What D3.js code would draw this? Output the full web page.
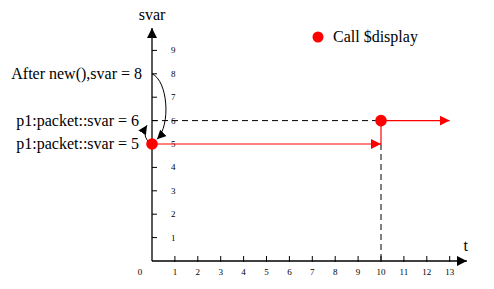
<!DOCTYPE html>
<html>
<head>
<meta charset="utf-8">
<script src="https://cdn.jsdelivr.net/npm/d3@7"></script>
<style>
  body { margin: 0; background: #fff; }
</style>
</head>
<body>
<svg id="chart" width="494" height="289"></svg>
<script>
// chart data
const xTicks = [1, 2, 3, 4, 5, 6, 7, 8, 9, 10, 11, 12, 13];
const yTicks = [1, 2, 3, 4, 5, 6, 7, 8, 9];
const displayPoints = [[0, 5], [10, 6]];
const svarPath = [[0, 5], [10, 5]];      // red arrow at svar = 5
const svarPath2 = [[10, 6], [13, 6]];    // red arrow at svar = 6
const annotations = [
  { text: "After new(),svar = 8", v: 8 },
  { text: "p1:packet::svar = 6", v: 6 },
  { text: "p1:packet::svar = 5", v: 5 }
];
const legendLabel = "Call $display";
const FONT = "Liberation Serif";

const svg = d3.select("#chart");
const x = d3.scaleLinear().domain([0, 10]).range([152, 381]);
const y = d3.scaleLinear().domain([0, 10]).range([261, 27]);

// markers
const defs = svg.append("defs");
function marker(id, color, w, h) {
  defs.append("marker")
    .attr("id", id)
    .attr("viewBox", "0 0 10 10")
    .attr("refX", 10).attr("refY", 5)
    .attr("markerUnits", "userSpaceOnUse")
    .attr("markerWidth", w).attr("markerHeight", h)
    .attr("orient", "auto")
    .append("path").attr("d", "M0,0L10,5L0,10Z").attr("fill", color);
}
marker("redArrow", "#ff0000", 10, 10);
marker("blackArrow", "#000", 10, 12);
marker("smallArrow", "#000", 9, 9);

// y axis
svg.append("line")
  .attr("x1", x(0)).attr("y1", y(0))
  .attr("x2", x(0)).attr("y2", y(10) + 1)
  .attr("stroke", "#000").attr("stroke-width", 1.3)
  .attr("marker-end", "url(#blackArrow)");
svg.append("text").attr("x", x(0)).attr("y", 20)
  .attr("font-family", FONT)
  .attr("text-anchor", "middle").attr("font-size", 16).text("svar");

svg.selectAll(".ytick").data(yTicks).join("line")
  .attr("x1", x(0)).attr("x2", x(0) + 5)
  .attr("y1", d => y(d)).attr("y2", d => y(d))
  .attr("stroke", "#000");
svg.selectAll(".ylab").data(yTicks).join("text")
  .attr("font-family", FONT)
  .attr("x", x(0.93)).attr("y", d => y(d) + 3)
  .attr("text-anchor", "middle").attr("font-size", 9).text(d => d);

// x axis
svg.append("line")
  .attr("x1", x(0)).attr("y1", y(0))
  .attr("x2", x(13.75)).attr("y2", y(0))
  .attr("stroke", "#000").attr("stroke-width", 1.3)
  .attr("marker-end", "url(#blackArrow)");
svg.append("text").attr("x", x(13.7)).attr("y", 251)
  .attr("font-family", FONT)
  .attr("text-anchor", "middle").attr("font-size", 16).text("t");

svg.selectAll(".xtick").data(xTicks).join("line")
  .attr("x1", d => x(d)).attr("x2", d => x(d))
  .attr("y1", y(0) - 5).attr("y2", y(0) + 1)
  .attr("stroke", "#000");
svg.selectAll(".xlab").data(xTicks).join("text")
  .attr("font-family", FONT)
  .attr("x", d => x(d)).attr("y", 275)
  .attr("text-anchor", "middle").attr("font-size", 9).text(d => d);
svg.append("text").attr("x", x(-0.52)).attr("y", 275)
  .attr("font-family", FONT)
  .attr("text-anchor", "middle").attr("font-size", 9).text(0);

// dashed guides
svg.append("line")
  .attr("x1", x(0)).attr("y1", y(6)).attr("x2", x(10)).attr("y2", y(6))
  .attr("stroke", "#000").attr("stroke-dasharray", "6,4");
svg.append("line")
  .attr("x1", x(10)).attr("y1", y(5)).attr("x2", x(10)).attr("y2", y(0))
  .attr("stroke", "#000").attr("stroke-dasharray", "6,4");

// red lines
const line = d3.line().x(d => x(d[0])).y(d => y(d[1]));
svg.append("path").datum(svarPath).attr("d", line)
  .attr("fill", "none").attr("stroke", "#ff0000").attr("stroke-width", 1)
  .attr("marker-end", "url(#redArrow)");
svg.append("path").datum(svarPath2).attr("d", line)
  .attr("fill", "none").attr("stroke", "#ff0000").attr("stroke-width", 1.2)
  .attr("marker-end", "url(#redArrow)");
svg.append("line")
  .attr("x1", x(10)).attr("y1", y(6)).attr("x2", x(10)).attr("y2", y(5))
  .attr("stroke", "#ff0000").attr("stroke-width", 1.2);

// curved arrows
svg.append("path")
  .attr("d", `M${x(0)},${y(8)} C${x(0) + 16},${y(7.7)} ${x(0) + 19},${y(5.8)} ${x(0) + 5},${y(5.2)}`)
  .attr("fill", "none").attr("stroke", "#000")
  .attr("marker-end", "url(#smallArrow)");
svg.append("path")
  .attr("d", `M${x(0)},${y(5)} C${x(0) - 9},${y(5.2)} ${x(0) - 8},${y(5.6)} ${x(0) - 5},${y(5.8)}`)
  .attr("fill", "none").attr("stroke", "#000")
  .attr("marker-end", "url(#smallArrow)");

// display points
svg.selectAll(".dot").data(displayPoints).join("circle")
  .attr("cx", d => x(d[0])).attr("cy", d => y(d[1]))
  .attr("r", 5.8).attr("fill", "#ff0000");

// annotations
svg.selectAll(".ann").data(annotations).join("text")
  .attr("font-family", FONT)
  .attr("x", (d, i) => i === 0 ? 142 : 139)
  .attr("y", d => y(d.v) + 5)
  .attr("text-anchor", "end").attr("font-size", 16).text(d => d.text);

// legend
svg.append("circle").attr("cx", 318).attr("cy", 37).attr("r", 5.5).attr("fill", "#ff0000");
svg.append("text").attr("x", 333).attr("y", 42)
  .attr("font-family", FONT).attr("font-size", 16).text(legendLabel);
</script>
</body>
</html>
